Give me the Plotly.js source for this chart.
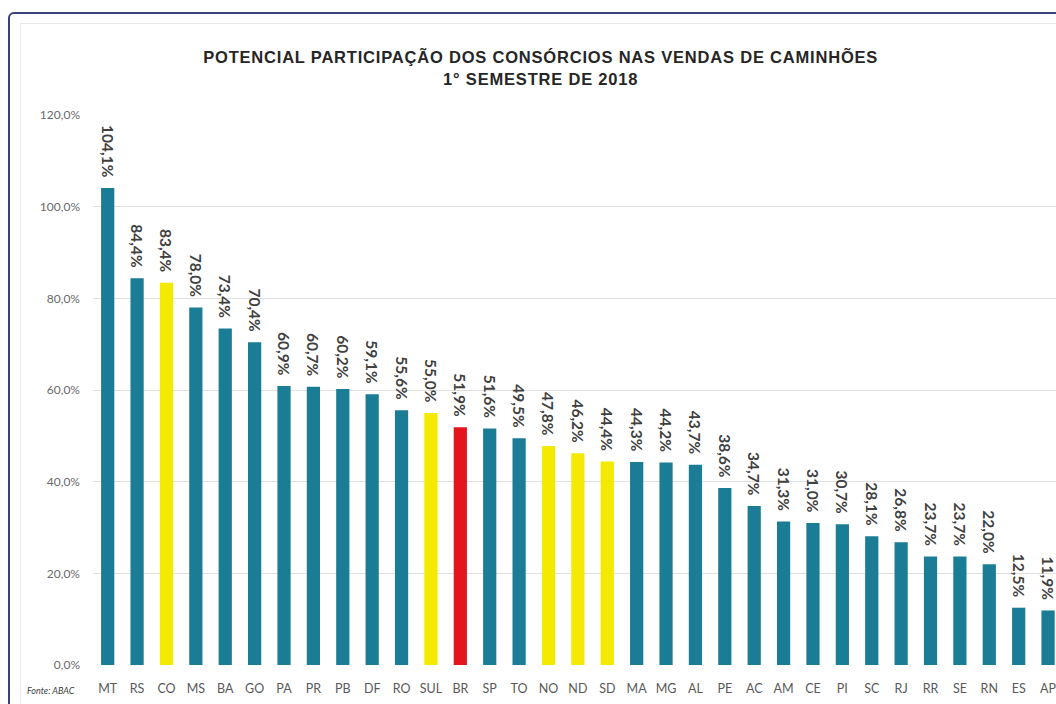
<!DOCTYPE html>
<html>
<head>
<meta charset="utf-8">
<script src="https://cdn.plot.ly/plotly-3.0.1.min.js"></script>
<style>
  html, body { margin: 0; padding: 0; background: #ffffff; overflow: hidden; width: 1056px; height: 704px; }
  #chart { width: 1056px; height: 704px; position: absolute; left: 0; top: 0; }
  #chart .gtitle { letter-spacing: 0.8px; }
  #frame { position: absolute; left: 8px; top: 12px; width: 1300px; height: 900px;
           border: 2px solid #3c3f78; border-radius: 6px; pointer-events: none; }
  #inner { position: absolute; left: 20px; top: 23px; width: 1300px; height: 900px;
           border-top: 1px solid #e6e6e6; border-left: 1px solid #ececec; pointer-events: none; }
</style>
</head>
<body>
<div id="chart"></div>
<div id="frame"></div>
<div id="inner"></div>
<script>
const categories = ["MT","RS","CO","MS","BA","GO","PA","PR","PB","DF","RO","SUL","BR","SP","TO","NO","ND","SD","MA","MG","AL","PE","AC","AM","CE","PI","SC","RJ","RR","SE","RN","ES","AP"];
const values = [104.1,84.4,83.4,78.0,73.4,70.4,60.9,60.7,60.2,59.1,55.6,55.0,51.9,51.6,49.5,47.8,46.2,44.4,44.3,44.2,43.7,38.6,34.7,31.3,31.0,30.7,28.1,26.8,23.7,23.7,22.0,12.5,11.9];
const regions = ["CO","SUL","NO","ND","SD"];
const national = ["BR"];
const yTicks = [0,20,40,60,80,100,120];
const yTickText = ["0,0%","20,0%","40,0%","60,0%","80,0%","100,0%","120,0%"];

const TEAL = "#1b7d95", YELLOW = "#f4e900", RED = "#e3161d";
const colors = categories.map(c => national.includes(c) ? RED : (regions.includes(c) ? YELLOW : TEAL));

const trace = {
  type: "bar",
  x: categories,
  y: values,
  marker: { color: colors },
  width: 0.45,
  texttemplate: "%{y:.1f}%\u00a0\u00a0",
  textposition: "outside",
  textangle: 90,
  constraintext: "none",
  cliponaxis: false,
  textfont: { family: "Lato, 'Open Sans', sans-serif", size: 15.5, color: "#404040", weight: 700 },
  hoverinfo: "skip"
};

const layout = {
  width: 1056, height: 704,
  margin: { l: 93, r: 0, t: 115, b: 39, pad: 0 },
  paper_bgcolor: "#ffffff",
  plot_bgcolor: "#ffffff",
  separators: ",.",
  showlegend: false,
  title: {
    text: "<b>POTENCIAL PARTICIPAÇÃO DOS CONSÓRCIOS NAS VENDAS DE CAMINHÕES<br>1° SEMESTRE DE 2018</b>",
    font: { family: "'Liberation Sans', Arial, sans-serif", size: 16.5, color: "#262626" },
    x: 0.512, xanchor: "center", yref: "container", y: 0.91, yanchor: "middle"
  },
  xaxis: {
    type: "category",
    range: [-0.5, 32.27],
    showgrid: false, zeroline: false, showline: false,
    ticks: "", ticklabelstandoff: 14,
    tickfont: { family: "Lato, 'Open Sans', sans-serif", size: 12.5, color: "#595959" },
    fixedrange: true
  },
  yaxis: {
    range: [0, 120],
    tickvals: yTicks,
    ticktext: yTickText,
    showgrid: true, gridcolor: "#e0e0e0", gridwidth: 1,
    zeroline: false, showline: false, ticks: "",
    ticklabelstandoff: 12,
    tickfont: { family: "Lato, 'Open Sans', sans-serif", size: 12, color: "#6a6a6a" },
    fixedrange: true
  },
  annotations: [{
    text: "<i>Fonte: ABAC</i>",
    xref: "paper", yref: "paper",
    x: -0.071, y: -0.046, xanchor: "left", yanchor: "middle",
    showarrow: false,
    font: { family: "Lato, 'Open Sans', sans-serif", size: 9, color: "#404040" }
  }]
};

Plotly.newPlot("chart", [trace], layout, { displayModeBar: false, staticPlot: true });
</script>
</body>
</html>
